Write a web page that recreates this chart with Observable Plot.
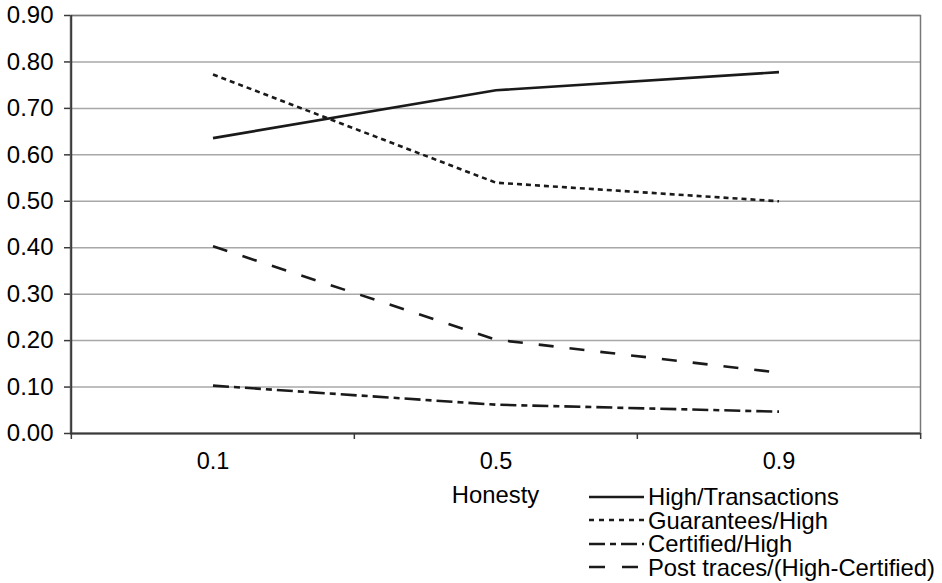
<!DOCTYPE html>
<html>
<head>
<meta charset="utf-8">
<script src="https://cdn.jsdelivr.net/npm/d3@7"></script>
<script src="https://cdn.jsdelivr.net/npm/@observablehq/plot@0.6"></script>
<style>
  html, body { margin: 0; padding: 0; background: #fff; }
  #wrap { position: relative; width: 942px; height: 583px; font-family: "Liberation Sans", Arial, sans-serif; }
  #legend { position: absolute; left: 589px; top: 485px; }
  .row { display: flex; align-items: center; height: 23.5px; }
  .row span { font-size: 23.8px; color: #000; margin-left: 4px; line-height: 23px; white-space: nowrap; }
</style>
</head>
<body>
<div id="wrap"></div>
<script>
// ---- data ----
const honesty = ["0.1", "0.5", "0.9"];
const seriesNames = ["High/Transactions", "Guarantees/High", "Certified/High", "Post traces/(High-Certified)"];
const highTransactions = [0.636, 0.739, 0.778];
const guaranteesHigh = [0.773, 0.540, 0.500];
const certifiedHigh = [0.103, 0.062, 0.047];
const postTraces = [0.403, 0.202, 0.131];
const yTicks = [0, 0.1, 0.2, 0.3, 0.4, 0.5, 0.6, 0.7, 0.8, 0.9];
const xLabel = "Honesty";

// ---- styles ----
const dashes = ["none", "5,4", "16,5,6,5", "15,16"];
const legendDashes = ["none", "5,5", "16,5,6,5", "16,17"];

const allValues = [highTransactions, guaranteesHigh, certifiedHigh, postTraces];
const rows = [];
seriesNames.forEach((name, si) => {
  honesty.forEach((h, i) => rows.push({series: name, h, v: allValues[si][i]}));
});

const W = 942, H = 583, mL = 70, mR = 22, mT = 15, mB = 150;
const bw = (W - mL - mR) / honesty.length;
const ink = "#1a1a1a";
const axisInk = "#3a3a3a";
const gridInk = "#a8a8a8";

const marks = [
  Plot.gridY(yTicks, {stroke: gridInk, strokeOpacity: 1, strokeWidth: 1.5}),
  Plot.frame({stroke: "#777", strokeWidth: 1.5}),
  Plot.ruleY([0], {stroke: axisInk, strokeWidth: 1.8}),
  Plot.ruleX([honesty[0]], {dx: -bw / 2, stroke: axisInk, strokeWidth: 1.8}),
  Plot.axisY(yTicks, {tickFormat: d3.format(".2f"), tickSize: 6, tickPadding: 11, fontSize: 24, stroke: axisInk, strokeWidth: 1.5, fill: "#000", label: null}),
  Plot.axisX(honesty, {tickSize: 0, tickPadding: 19, fontSize: 23.5, fill: "#000", label: null}),
  Plot.axisX(honesty, {tickSize: 6, tickFormat: () => "", dx: -bw / 2, stroke: axisInk, strokeWidth: 1.5, label: null}),
  Plot.axisX([honesty[honesty.length - 1]], {tickSize: 6, tickFormat: () => "", dx: bw / 2, stroke: axisInk, strokeWidth: 1.5, label: null}),
  Plot.text([xLabel], {frameAnchor: "bottom", dy: 62, fontSize: 23.8, fill: "#000", lineAnchor: "middle"})
];
seriesNames.forEach((name, si) => {
  marks.push(Plot.line(rows.filter(d => d.series === name), {
    x: "h", y: "v", stroke: ink, strokeWidth: 2.6, strokeDasharray: dashes[si], strokeLinecap: "butt"
  }));
});

const chart = Plot.plot({
  width: W, height: H,
  marginLeft: mL, marginRight: mR, marginTop: mT, marginBottom: mB,
  style: {fontFamily: "'Liberation Sans', Arial, sans-serif", fontSize: "23px", color: "#000", background: "#fff"},
  x: {type: "band", domain: honesty, padding: 0, axis: null},
  y: {domain: [0, 0.9], axis: null},
  marks
});
const wrap = document.getElementById("wrap");
wrap.appendChild(chart);

// legend
const legend = document.createElement("div");
legend.id = "legend";
seriesNames.forEach((name, si) => {
  const row = document.createElement("div");
  row.className = "row";
  const svg = d3.create("svg").attr("width", 55).attr("height", 10);
  svg.append("line").attr("x1", 0).attr("x2", 55).attr("y1", 5).attr("y2", 5)
    .attr("stroke", ink).attr("stroke-width", 2.6)
    .attr("stroke-dasharray", legendDashes[si]);
  row.appendChild(svg.node());
  const span = document.createElement("span");
  span.textContent = name;
  row.appendChild(span);
  legend.appendChild(row);
});
wrap.appendChild(legend);
</script>
</body>
</html>
